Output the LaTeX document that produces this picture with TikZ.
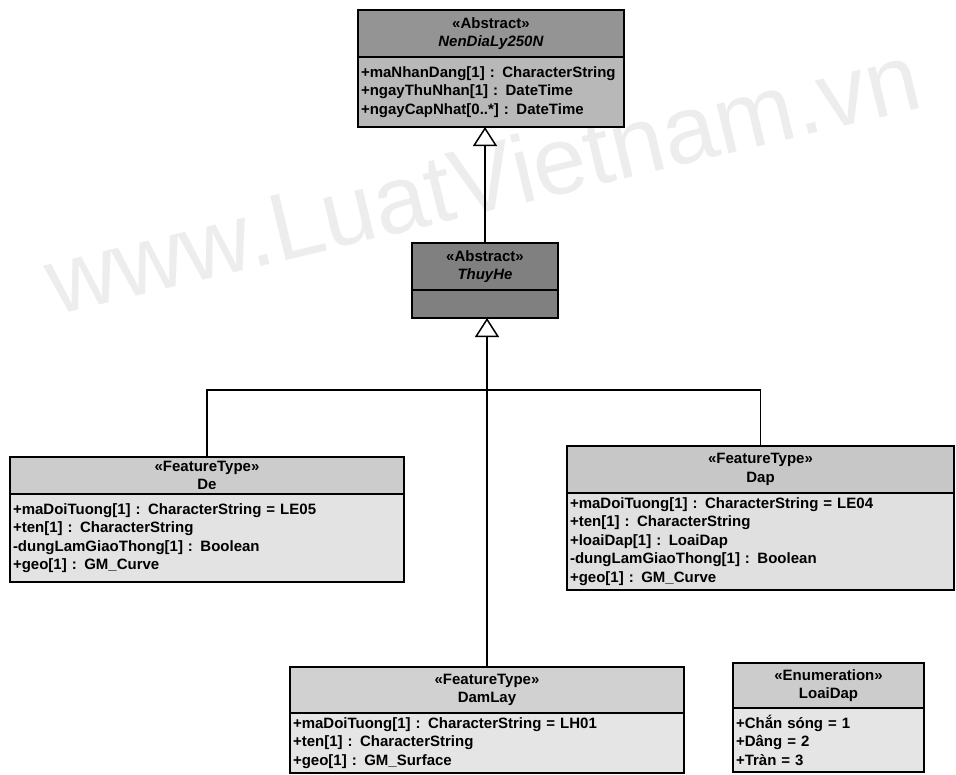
\documentclass[tikz,border=0pt]{standalone}
\usepackage{fontspec}
\setmainfont{Liberation Sans}
\usetikzlibrary{arrows.meta,calc}
\tikzset{
  cls/.style={draw, line width=1.5pt, inner xsep=3pt, inner ysep=0pt, outer sep=0pt, anchor=north west,
    font=\fontsize{15}{18.5}\selectfont\bfseries},
  hdr/.style={cls, align=center},
  body/.style={cls, align=left},
  conn/.style={line width=1.5pt},
  gen/.style={conn, -{Triangle[open, length=19pt, width=24pt, line width=1.5pt]}},
  wm/.style={text=black!7, font=\fontsize{96}{96}\selectfont, rotate=13.5, inner sep=0pt}
}
\begin{document}
\begin{tikzpicture}[x=1pt,y=-1pt]
\useasboundingbox (0,0) rectangle (956,774);
% watermark
\node[wm] (watermark) at (482,178) {www.LuatVietnam.vn};
% NenDiaLy250N
\node[hdr, fill=black!42, minimum width=266pt, minimum height=47pt] (nenH) at (358,10) {«Abstract»\\\textit{NenDiaLy250N}};
\node[body, fill=black!28, minimum width=266pt, minimum height=70pt, text width=260pt] (nenB) at (nenH.south west)
 {+maNhanDang[1] : CharacterString\\+ngayThuNhan[1] : DateTime\\+ngayCapNhat[0..*] : DateTime};
% ThuyHe
\node[hdr, fill=black!50, minimum width=146pt, minimum height=47pt] (thuyH) at (412,243) {«Abstract»\\\textit{ThuyHe}};
\node[body, fill=black!50, minimum width=146pt, minimum height=28pt, text width=140pt] (thuyB) at (thuyH.south west) {};
% De
\node[hdr, fill=black!20, minimum width=394pt, minimum height=37pt] (deH) at (10,457) {\fontsize{15}{15.5}\selectfont«FeatureType»\\De};
\node[body, fill=black!11, minimum width=394pt, minimum height=88pt, text width=388pt] (deB) at (deH.south west)
 {+maDoiTuong[1] : CharacterString = LE05\\+ten[1] : CharacterString\\-dungLamGiaoThong[1] : Boolean\\+geo[1] : GM\_Curve};
% Dap
\node[hdr, fill=black!22, minimum width=387pt, minimum height=47pt] (dapH) at (567,446) {«FeatureType»\\Dap};
\node[body, fill=black!12, minimum width=387pt, minimum height=97pt, text width=381pt] (dapB) at (dapH.south west)
 {+maDoiTuong[1] : CharacterString = LE04\\+ten[1] : CharacterString\\+loaiDap[1] : LoaiDap\\-dungLamGiaoThong[1] : Boolean\\+geo[1] : GM\_Curve};
% DamLay
\node[hdr, fill=black!18, minimum width=394pt, minimum height=46pt] (damH) at (290,667) {«FeatureType»\\DamLay};
\node[body, fill=black!10, minimum width=394pt, minimum height=60pt, text width=388pt] (damB) at (damH.south west)
 {+maDoiTuong[1] : CharacterString = LH01\\+ten[1] : CharacterString\\+geo[1] : GM\_Surface};
% LoaiDap
\node[hdr, fill=black!20, minimum width=191pt, minimum height=45pt] (loaiH) at (733,663) {«Enumeration»\\LoaiDap};
\node[body, fill=black!10, minimum width=191pt, minimum height=64pt, text width=185pt] (loaiB) at (loaiH.south west)
 {+Chắn sóng = 1\\+Dâng = 2\\+Tràn = 3};
% connectors
\draw[gen] (thuyH.north) -- (thuyH.north |- nenB.south);
\coordinate (junc) at ($(damH.north |- 0,390)$);
\draw[gen] (damH.north) -- (damH.north |- thuyB.south);
\draw[conn] (deH.north) -- (deH.north |- junc) -- (dapH.north |- junc) -- (dapH.north);
\end{tikzpicture}
\end{document}
